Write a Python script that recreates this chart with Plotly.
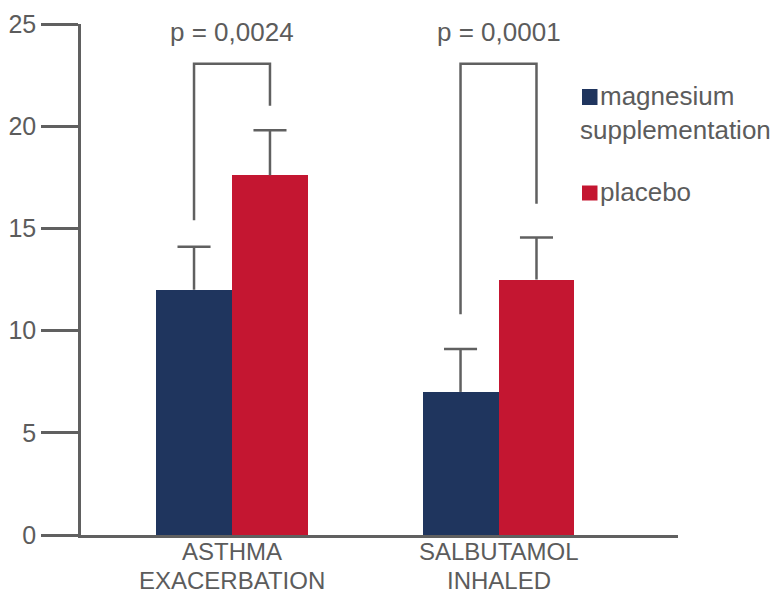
import plotly.graph_objects as go

# Data
categories = ["ASTHMA<br>EXACERBATION", "SALBUTAMOL<br>INHALED"]
magnesium = [12.0, 7.0]
magnesium_err = [2.1, 2.1]
placebo = [17.6, 12.5]
placebo_err = [2.2, 2.05]
p_values = ["p = 0,0024", "p = 0,0001"]
# bracket heights: [left foot, top, right foot] per group
bracket_levels = [[15.4, 23.05, 21.0], [10.8, 23.05, 16.2]]
y_ticks = [0, 5, 10, 15, 20, 25]

NAVY = "#1f355e"
RED = "#c41631"
GREY = "#606060"
TEXT = "#5c5c5c"
FONT = "Liberation Sans, Arial, sans-serif"

BAR_W = 0.285
CAP = 0.062

idx = list(range(len(categories)))
x_mag = [i - BAR_W / 2 for i in idx]
x_pla = [i + BAR_W / 2 for i in idx]

fig = go.Figure()
fig.add_trace(go.Bar(x=x_mag, y=magnesium, width=BAR_W, marker=dict(color=NAVY, line_width=0),
                     name="magnesium supplementation", showlegend=False))
fig.add_trace(go.Bar(x=x_pla, y=placebo, width=BAR_W, marker=dict(color=RED, line_width=0),
                     name="placebo", showlegend=False))

# one-sided error bars (upward only, cap at top)
ex, ey = [], []
for xs, vals, errs in ((x_mag, magnesium, magnesium_err), (x_pla, placebo, placebo_err)):
    for x, v, e in zip(xs, vals, errs):
        ex += [x, x, None, x - CAP, x + CAP, None]
        ey += [v, v + e, None, v + e, v + e, None]
fig.add_trace(go.Scatter(x=ex, y=ey, mode="lines", line=dict(color=GREY, width=2.5),
                         hoverinfo="skip", showlegend=False))

# significance brackets
bx, by = [], []
for i, (lo, top, hi) in enumerate(bracket_levels):
    bx += [x_mag[i], x_mag[i], x_pla[i], x_pla[i], None]
    by += [lo, top, top, hi, None]
fig.add_trace(go.Scatter(x=bx, y=by, mode="lines", line=dict(color=GREY, width=2.5),
                         hoverinfo="skip", showlegend=False))

for i, p in enumerate(p_values):
    fig.add_annotation(x=i, y=24.6, text=p, showarrow=False, xanchor="center", yanchor="middle",
                       font=dict(size=26, color=TEXT, family=FONT))

L, R, T, B = 81, 678, 24, 535
def px_x(px):
    return (px - L) / (R - L)
def px_y(py):
    return (B - py) / (B - T)

# category labels under the axis, one annotation per line
for i, cat in enumerate(categories):
    for line, yy in zip(cat.split("<br>"), (551, 580)):
        fig.add_annotation(x=i, xref="x", yref="paper", y=px_y(yy), text=line, showarrow=False,
                           xanchor="center", yanchor="middle", borderpad=0,
                           font=dict(size=24, color=TEXT, family=FONT))

# legend
legend_items = [(NAVY, 89, 105, ["magnesium", "supplementation"], [96, 129.5]),
                (RED, 185.5, 200.5, ["placebo"], [192])]
for color, y0, y1, lines, ys in legend_items:
    fig.add_shape(type="rect", xref="paper", yref="paper", x0=px_x(582), x1=px_x(597.5),
                  y0=px_y(y1), y1=px_y(y0), fillcolor=color, line_width=0)
    for j, (txt, yy) in enumerate(zip(lines, ys)):
        fig.add_annotation(xref="paper", yref="paper", x=px_x(598 if j == 0 else 578),
                           y=px_y(yy), text=txt, showarrow=False, xanchor="left", yanchor="middle",
                           font=dict(size=26, color=TEXT, family=FONT))

fig.update_layout(
    width=771, height=596,
    margin=dict(l=L, r=771 - R, t=T, b=596 - B, pad=0, autoexpand=False),
    plot_bgcolor="white", paper_bgcolor="white",
    font=dict(family=FONT, size=25, color=TEXT),
    bargap=0, showlegend=False,
)
fig.update_xaxes(range=[-0.5666, 1.6735], showticklabels=False, showline=True,
                 linecolor=GREY, linewidth=2.5, ticks="", showgrid=False, zeroline=False,
                 automargin=False)
fig.update_yaxes(range=[0, 25], tickvals=y_ticks, showline=True, linecolor=GREY, linewidth=2.5,
                 ticks="outside", ticklen=37, tickwidth=2.5, tickcolor=GREY, showgrid=False,
                 zeroline=False, automargin=False, tickfont=dict(size=25, color=TEXT))

fig.write_html("out.html")
